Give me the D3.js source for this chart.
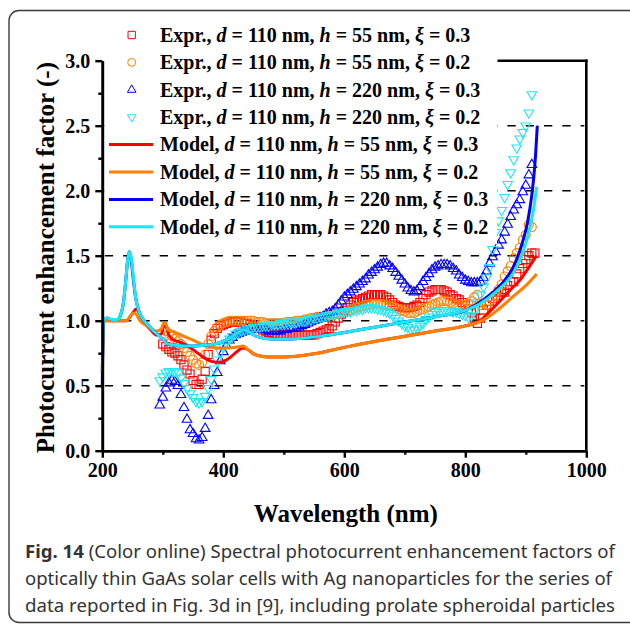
<!DOCTYPE html>
<html><head><meta charset="utf-8">
<script src="https://cdn.jsdelivr.net/npm/d3@7"></script>
<style>body{margin:0;background:#fff;} svg{display:block}</style>
</head><body>
<svg id="c" width="630" height="624"></svg>
<script>
// ---------- data ----------
const xTicks = [200, 400, 600, 800, 1000];
const xMinorTicks = [300, 500, 700, 900];
const yTicks = [0.0, 0.5, 1.0, 1.5, 2.0, 2.5, 3.0];
const yMinorTicks = [0.25, 0.75, 1.25, 1.75, 2.25, 2.75];
const gridValues = [0.5, 1.0, 1.5, 2.0, 2.5];

const exprWl = [
 295,300,305,310,315,320,325,330,335,340,
 345,350,355,360,365,370,375,380,385,390,
 395,400,405,410,415,420,425,430,435,440,
 445,450,455,460,465,470,475,480,485,490,
 495,500,505,510,515,520,525,530,535,540,
 545,550,555,560,565,570,575,580,585,590,
 595,600,605,610,615,620,625,630,635,640,
 645,650,655,660,665,670,675,680,685,690,
 695,700,705,710,715,720,725,730,735,740,
 745,750,755,760,765,770,775,780,785,790,
 795,800,805,810,815,820,825,830,835,840,
 845,850,855,860,865,870,875,880,885,890,
 895,900,905,910,915];

// Expr., h = 55 nm, xi = 0.3 (red squares)
const exprRed = [
 null,0.82,0.80,0.78,0.76,0.75,0.73,0.70,0.66,0.62,
 0.59,0.54,0.51,0.51,0.55,0.61,0.74,0.85,0.90,0.94,
 0.96,0.97,0.98,0.99,0.99,0.99,0.99,0.99,0.98,0.98,
 0.97,0.96,0.95,0.94,0.93,0.92,0.91,0.90,0.90,0.89,
 0.89,0.89,0.89,0.89,0.89,0.89,0.89,0.89,0.89,0.89,
 0.89,0.89,0.90,0.91,0.92,0.93,0.94,0.96,0.99,1.02,
 1.05,1.08,1.10,1.12,1.14,1.15,1.16,1.17,1.18,1.19,
 1.20,1.20,1.20,1.20,1.19,1.18,1.16,1.14,1.12,1.11,
 1.10,1.10,1.10,1.10,1.11,1.12,1.14,1.17,1.20,1.22,
 1.23,1.24,1.24,1.24,1.23,1.22,1.20,1.19,1.17,1.16,
 1.14,1.12,1.09,1.06,1.02,0.98,1.02,1.08,1.12,1.15,
 1.17,1.19,1.22,1.24,1.22,1.27,1.30,1.30,1.36,1.40,
 1.44,1.47,1.50,1.52,1.52];

// Expr., h = 55 nm, xi = 0.2 (orange circles)
const exprOrange = [
 null,null,0.92,0.90,0.88,0.86,0.84,0.82,0.79,0.76,
 0.73,0.70,0.67,0.66,0.68,0.74,0.82,0.88,0.92,0.95,
 0.97,0.98,0.99,1.00,1.00,1.00,1.00,1.00,1.00,1.00,
 1.00,1.00,0.99,0.99,0.99,0.98,0.98,0.98,0.98,0.98,
 0.98,0.98,0.99,0.99,0.99,1.00,1.00,1.00,1.01,1.01,
 1.02,1.02,1.03,1.03,1.03,1.04,1.04,1.05,1.05,1.05,
 1.06,1.06,1.07,1.08,1.09,1.10,1.11,1.11,1.12,1.12,
 1.13,1.13,1.13,1.13,1.12,1.12,1.11,1.11,1.10,1.09,
 1.08,1.07,1.06,1.06,1.06,1.07,1.08,1.09,1.10,1.11,
 1.12,1.13,1.14,1.15,1.15,1.15,1.14,1.13,1.12,1.12,
 1.12,1.12,1.13,1.15,1.18,1.20,1.12,1.08,1.12,1.15,
 1.17,1.20,1.24,1.28,1.34,1.38,1.42,1.48,1.52,1.56,
 1.62,1.66,1.74,1.72,null];

// Expr., h = 220 nm, xi = 0.3 (blue triangles)
const exprBlue = [
 0.35,0.41,0.48,0.52,0.54,0.53,0.50,0.43,0.33,0.24,
 0.16,0.13,0.09,0.08,0.10,0.17,0.27,0.39,0.50,0.60,
 0.69,0.76,0.81,0.85,0.87,0.89,0.90,0.91,0.92,0.93,
 0.93,0.93,0.93,0.93,0.93,0.93,0.92,0.92,0.92,0.92,
 0.92,0.93,0.93,0.94,0.94,0.94,0.95,0.96,0.97,0.98,
 0.99,1.00,1.01,1.02,1.03,1.05,1.06,1.07,1.09,1.12,
 1.15,1.18,1.20,1.22,1.24,1.26,1.28,1.30,1.32,1.35,
 1.37,1.39,1.41,1.43,1.44,1.44,1.42,1.40,1.37,1.34,
 1.31,1.28,1.25,1.23,1.22,1.23,1.26,1.30,1.33,1.36,
 1.39,1.41,1.42,1.43,1.43,1.43,1.42,1.40,1.38,1.35,
 1.33,1.31,1.30,1.29,1.29,1.29,1.30,1.33,1.38,1.44,
 1.49,1.53,1.58,1.62,1.68,1.74,1.80,1.85,1.89,1.93,
 1.99,2.04,2.12,2.20,null];

// Expr., h = 220 nm, xi = 0.2 (cyan down-triangles)
const exprCyan = [
 0.54,0.57,0.60,0.61,0.61,0.61,0.60,0.56,0.52,0.48,
 0.44,0.41,0.38,0.37,0.38,0.42,0.48,0.55,0.63,0.70,
 0.76,0.80,0.83,0.86,0.88,0.90,0.91,0.92,0.93,0.94,
 0.94,0.95,0.95,0.95,0.96,0.96,0.96,0.97,0.97,0.97,
 0.98,0.98,0.99,0.99,0.99,0.99,1.00,1.00,1.00,1.01,
 1.01,1.02,1.02,1.03,1.03,1.04,1.04,1.05,1.05,1.06,
 1.06,1.07,1.07,1.07,1.08,1.08,1.09,1.09,1.10,1.10,
 1.10,1.10,1.09,1.09,1.08,1.07,1.06,1.04,1.02,1.00,
 0.98,0.96,0.95,0.93,0.93,0.94,0.96,0.98,1.01,1.03,
 1.05,1.07,1.08,1.08,1.08,1.08,1.08,1.07,1.07,1.06,
 1.05,1.04,1.03,1.04,1.08,1.14,1.20,1.26,1.33,1.41,
 1.55,1.68,1.77,1.85,1.95,2.05,2.14,2.24,2.33,2.40,
 2.45,2.50,2.60,2.74,null];

// Models: [wavelength, factor]
const modelRed = [[200,0.6],[202,1.0],[240,1.0],[246,1.03],[252,1.07],[256,1.09],[260,1.07],[265,1.02],[272,0.97],[280,0.93],[290,0.89],[298,0.9],[301,0.95],[305,0.96],[309,0.9],[315,0.86],[325,0.84],[340,0.81],[355,0.76],[370,0.71],[382,0.685],[392,0.68],[402,0.69],[412,0.72],[422,0.76],[432,0.79],[440,0.78],[450,0.745],[465,0.725],[480,0.72],[500,0.72],[550,0.745],[600,0.795],[650,0.84],[700,0.88],[750,0.92],[800,0.96],[822,0.99],[840,1.07],[857,1.15],[875,1.24],[890,1.31],[905,1.41],[912,1.46],[918,1.5]];
const modelOrange = [[200,0.6],[202,1.0],[240,1.0],[247,1.04],[252,1.06],[256,1.05],[262,1.0],[270,0.97],[280,0.94],[290,0.92],[298,0.94],[301,0.98],[305,0.98],[308,0.93],[315,0.92],[330,0.89],[350,0.85],[370,0.81],[390,0.79],[410,0.79],[425,0.8],[433,0.805],[440,0.78],[450,0.745],[465,0.725],[480,0.72],[500,0.72],[550,0.745],[600,0.795],[650,0.84],[700,0.88],[750,0.92],[800,0.96],[820,0.985],[835,1.02],[850,1.07],[868,1.14],[880,1.19],[900,1.27],[918,1.36]];
const modelBlue = [[200,0.5],[202,1.0],[208,1.02],[215,1.01],[225,1.01],[230,1.04],[235,1.14],[239,1.32],[242,1.47],[244.5,1.53],[247.5,1.48],[251,1.33],[255,1.18],[260,1.08],[266,1.02],[275,0.97],[285,0.92],[295,0.88],[300,0.86],[302,0.86],[304,0.83],[310,0.82],[325,0.81],[345,0.805],[365,0.81],[385,0.82],[400,0.84],[415,0.88],[425,0.91],[433,0.93],[440,0.92],[455,0.88],[480,0.86],[510,0.86],[560,0.88],[600,0.91],[650,0.95],[700,0.99],[750,1.03],[800,1.08],[820,1.13],[846,1.22],[865,1.31],[879,1.41],[893,1.58],[903,1.76],[910,1.97],[915,2.2],[919,2.5]];
const modelCyan = [[200,0.6],[202,1.0],[208,1.02],[215,1.01],[225,1.01],[230,1.04],[235,1.14],[239,1.32],[242,1.47],[245,1.53],[248,1.48],[251.5,1.33],[255,1.18],[260,1.08],[266,1.02],[275,0.97],[285,0.92],[295,0.88],[300,0.86],[302,0.86],[304,0.83],[310,0.82],[325,0.81],[345,0.805],[365,0.81],[385,0.82],[400,0.84],[415,0.88],[425,0.91],[433,0.93],[440,0.92],[455,0.88],[480,0.86],[510,0.86],[560,0.88],[600,0.91],[650,0.95],[700,0.99],[750,1.03],[800,1.08],[824,1.13],[850,1.22],[879,1.365],[895,1.52],[907,1.72],[913,1.86],[918,2.03]];

const legendLabels = [
 ["Expr., ", "d", " = 110 nm, ", "h", " = 55 nm, ", "ξ", " = 0.3"],
 ["Expr., ", "d", " = 110 nm, ", "h", " = 55 nm, ", "ξ", " = 0.2"],
 ["Expr., ", "d", " = 110 nm, ", "h", " = 220 nm, ", "ξ", " = 0.3"],
 ["Expr., ", "d", " = 110 nm, ", "h", " = 220 nm, ", "ξ", " = 0.2"],
 ["Model, ", "d", " = 110 nm, ", "h", " = 55 nm, ", "ξ", " = 0.3"],
 ["Model, ", "d", " = 110 nm, ", "h", " = 55 nm, ", "ξ", " = 0.2"],
 ["Model, ", "d", " = 110 nm, ", "h", " = 220 nm, ", "ξ", " = 0.3"],
 ["Model, ", "d", " = 110 nm, ", "h", " = 220 nm, ", "ξ", " = 0.2"]
];
const xTitle = "Wavelength (nm)";
const yTitle = "Photocurrent enhancement factor (-)";
const captionLines = [
 ["Fig. 14", " (Color online) Spectral photocurrent enhancement factors of"],
 ["", "optically thin GaAs solar cells with Ag nanoparticles for the series of"],
 ["", "data reported in Fig. 3d in [9], including prolate spheroidal particles"]
];

// ---------- drawing ----------
const RED = "#ff0000", ORANGE = "#ff8000", BLUE = "#0000ff", CYAN = "#1fe6f2";
const serif = "'Liberation Serif','Times New Roman',serif";
const svg = d3.select("#c");
const L = 102.3, R = 586.3, T = 60.7, B = 450.7;
const x = d3.scaleLinear().domain([200, 1000]).range([L, R]);
const y = d3.scaleLinear().domain([0, 3]).range([B, T]);

// frame
svg.append("path")
  .attr("d", "M640,10.5 H19 A10,10 0 0 0 9,20.5 V612.5 A10,10 0 0 0 19,622.5 H640")
  .attr("fill", "none").attr("stroke", "#3a3a3a").attr("stroke-width", 1.4);

// grid
svg.append("g").selectAll("line").data(gridValues).join("line")
  .attr("x1", L + 2.5).attr("x2", R - 2)
  .attr("y1", d => y(d)).attr("y2", d => y(d))
  .attr("stroke", "#000").attr("stroke-width", 1.6)
  .attr("stroke-dasharray", "8.3,10");

// experimental markers
const symSquare = d3.symbol().type(d3.symbolSquare).size(66)();
const symCircle = d3.symbol().type(d3.symbolCircle).size(62)();
const symTri = d3.symbol().type(d3.symbolTriangle).size(40)();
const legSquare = d3.symbol().type(d3.symbolSquare).size(54)();
const legCircle = d3.symbol().type(d3.symbolCircle).size(50)();
const legTri = d3.symbol().type(d3.symbolTriangle).size(32)();
const exprSeries = [
  {vals: exprRed, color: RED, sym: symSquare, rot: 0},
  {vals: exprOrange, color: ORANGE, sym: symCircle, rot: 0},
  {vals: exprBlue, color: BLUE, sym: symTri, rot: 0},
  {vals: exprCyan, color: CYAN, sym: symTri, rot: 180}
];
exprSeries.forEach(s => {
  const pts = exprWl.map((w, i) => [w, s.vals[i]]).filter(p => p[1] != null);
  svg.append("g").selectAll("path").data(pts).join("path")
    .attr("d", s.sym)
    .attr("transform", d => `translate(${x(d[0])},${y(d[1])}) rotate(${s.rot})`)
    .attr("fill", "none").attr("stroke", s.color).attr("stroke-width", 1.1);
});

// model lines
const line = d3.line().x(d => x(d[0])).y(d => y(d[1])).curve(d3.curveMonotoneX);
[[modelRed, RED], [modelOrange, ORANGE], [modelBlue, BLUE], [modelCyan, CYAN]].forEach(([data, c]) => {
  svg.append("path").datum(data).attr("d", line)
    .attr("fill", "none").attr("stroke", c).attr("stroke-width", 3)
    .attr("stroke-linejoin", "round");
});

// legend
const legX = 105, legTop = 35, legStep = 27.4;
svg.append("rect").attr("x", legX).attr("y", 16).attr("width", 392).attr("height", 228).attr("fill", "#fff");
const legSyms = [
  {type: "m", sym: legSquare, rot: 0, color: RED},
  {type: "m", sym: legCircle, rot: 0, color: ORANGE},
  {type: "m", sym: legTri, rot: 0, color: BLUE},
  {type: "m", sym: legTri, rot: 180, color: CYAN},
  {type: "l", color: RED}, {type: "l", color: ORANGE}, {type: "l", color: BLUE}, {type: "l", color: CYAN}
];
legendLabels.forEach((parts, i) => {
  const cy = legTop + i * legStep;
  const s = legSyms[i];
  if (s.type === "m") {
    svg.append("path").attr("d", s.sym)
      .attr("transform", `translate(131.7,${cy}) rotate(${s.rot})`)
      .attr("fill", "none").attr("stroke", s.color).attr("stroke-width", 1);
  } else {
    svg.append("line").attr("x1", 109).attr("x2", 153).attr("y1", cy).attr("y2", cy)
      .attr("stroke", s.color).attr("stroke-width", 3);
  }
  const t = svg.append("text").attr("x", 160).attr("y", cy + 6.8)
    .attr("font-family", serif).attr("font-weight", "bold").attr("font-size", 20).attr("fill", "#000");
  parts.forEach((p, j) => {
    t.append("tspan").text(p).attr("font-style", j % 2 === 1 ? "italic" : "normal");
  });
});

// axes
const axisStyle = g => {
  g.selectAll(".domain").attr("stroke", "#000").attr("stroke-width", 2.6);
  g.selectAll(".tick line").attr("stroke", "#000").attr("stroke-width", 2.4);
  g.selectAll(".tick text").attr("font-family", serif).attr("font-weight", "bold")
    .attr("font-size", 20).attr("fill", "#000");
};
svg.append("g").attr("transform", `translate(0,${B})`)
  .call(d3.axisBottom(x).tickValues(xTicks).tickFormat(d3.format("d")).tickSize(7).tickSizeOuter(0).tickPadding(5))
  .call(axisStyle);
svg.append("g").attr("transform", `translate(0,${B})`)
  .call(d3.axisBottom(x).tickValues(xMinorTicks).tickFormat("").tickSize(4).tickSizeOuter(0))
  .call(axisStyle);
svg.append("g").attr("transform", `translate(${L},0)`)
  .call(d3.axisLeft(y).tickValues(yTicks).tickFormat(d3.format(".1f")).tickSize(7).tickSizeOuter(0).tickPadding(5))
  .call(axisStyle);
svg.append("g").attr("transform", `translate(${L},0)`)
  .call(d3.axisLeft(y).tickValues(yMinorTicks).tickFormat("").tickSize(4).tickSizeOuter(0))
  .call(axisStyle);
// right and top frame of plot
svg.append("line").attr("x1", R).attr("x2", R).attr("y1", T - 1.2).attr("y2", B)
  .attr("stroke", "#000").attr("stroke-width", 2.6);
svg.append("line").attr("x1", 497.5).attr("x2", R + 1.3).attr("y1", T).attr("y2", T)
  .attr("stroke", "#000").attr("stroke-width", 2.6);

// titles
svg.append("text").attr("x", (L + R) / 2 + 1.5).attr("y", 522).attr("text-anchor", "middle")
  .attr("font-family", serif).attr("font-weight", "bold").attr("font-size", 25).text(xTitle);
svg.append("text").attr("transform", `translate(54,${(T + B) / 2 + 2}) rotate(-90)`).attr("text-anchor", "middle")
  .attr("font-family", serif).attr("font-weight", "bold").attr("font-size", 25).text(yTitle);

// caption
const capWidths = [590, 587, 590];
captionLines.forEach((parts, i) => {
  const t = svg.append("text").attr("x", 25).attr("y", 557.5 + i * 27)
    .attr("font-family", "'Noto Sans','Open Sans',sans-serif").attr("font-size", 18.5).attr("fill", "#333");
  if (parts[0]) t.append("tspan").attr("font-weight", "bold").text(parts[0]);
  t.append("tspan").text(parts[1]);
  t.attr("textLength", capWidths[i]).attr("lengthAdjust", "spacingAndGlyphs");
});
</script>
</body></html>
